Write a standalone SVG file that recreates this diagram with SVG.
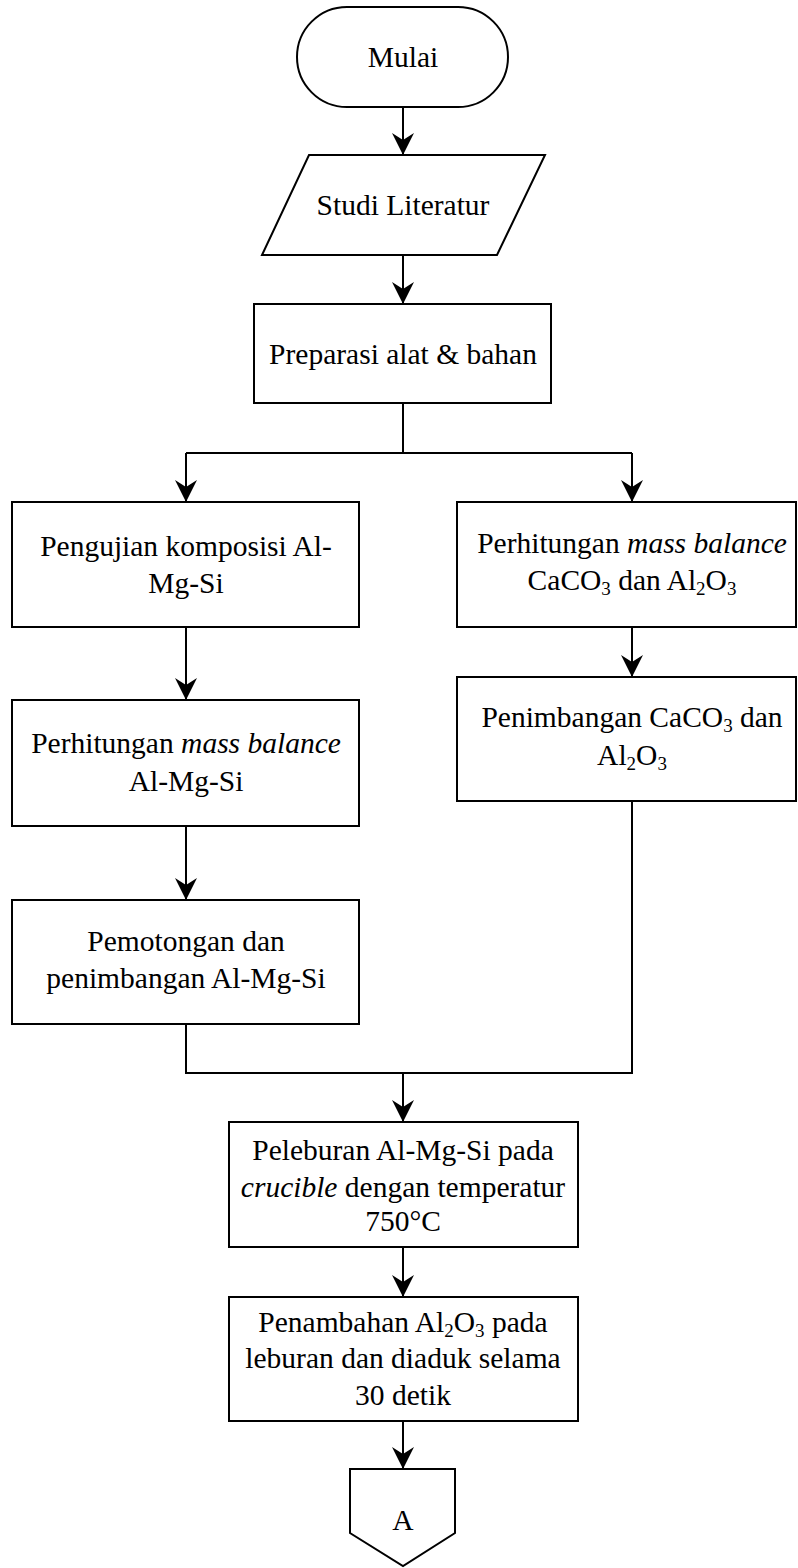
<svg xmlns="http://www.w3.org/2000/svg" width="798" height="1568" viewBox="0 0 798 1568" font-family="'Liberation Serif', 'Times New Roman', 'DejaVu Serif', serif">
<style>
.s{fill:#fff;stroke:#000;stroke-width:2}
.c{fill:none;stroke:#000;stroke-width:2}
text{font-family:'Liberation Serif','Times New Roman','DejaVu Serif',serif;font-size:29.5px;fill:#000;text-anchor:middle}
.i{font-style:italic}
.sub{font-size:19px}
</style>
<defs>
<marker id="ah" viewBox="0 0 22 22" refX="22" refY="11" markerWidth="22" markerHeight="22" markerUnits="userSpaceOnUse" orient="auto">
<path d="M0,0 L22,11 L0,22 L7,11 Z" fill="#000"/>
</marker>
</defs>
<rect width="798" height="1568" fill="#fff"/>
<g id="connectors">
<line class="c" x1="403" y1="107" x2="403" y2="155" marker-end="url(#ah)"/>
<line class="c" x1="403" y1="255" x2="403" y2="304" marker-end="url(#ah)"/>
<polyline class="c" points="403,403 403,453"/>
<polyline class="c" points="186,453 632,453"/>
<line class="c" x1="186" y1="453" x2="186" y2="502" marker-end="url(#ah)"/>
<line class="c" x1="632" y1="453" x2="632" y2="502" marker-end="url(#ah)"/>
<line class="c" x1="186" y1="627" x2="186" y2="700" marker-end="url(#ah)"/>
<line class="c" x1="186" y1="826" x2="186" y2="900" marker-end="url(#ah)"/>
<line class="c" x1="632" y1="627" x2="632" y2="677" marker-end="url(#ah)"/>
<polyline class="c" points="186,1024 186,1073 632,1073 632,801"/>
<line class="c" x1="403" y1="1073" x2="403" y2="1122" marker-end="url(#ah)"/>
<line class="c" x1="403" y1="1247" x2="403" y2="1297" marker-end="url(#ah)"/>
<line class="c" x1="403" y1="1421" x2="403" y2="1469" marker-end="url(#ah)"/>
</g>
<g id="mulai">
<rect class="s" x="297" y="7" width="211" height="100" rx="50" ry="50"/>
<text x="403" y="67">Mulai</text>
</g>
<g id="studi">
<polygon class="s" points="309,155 545,155 497,255 262,255"/>
<text x="403" y="215">Studi Literatur</text>
</g>
<g id="preparasi">
<rect class="s" x="254" y="304" width="297" height="99"/>
<text x="403" y="364">Preparasi alat &amp; bahan</text>
</g>
<g id="pengujian">
<rect class="s" x="12" y="502" width="347" height="125"/>
<text x="186" y="556">Pengujian komposisi Al-</text>
<text x="186" y="593">Mg-Si</text>
</g>
<g id="perhitungan-almgsi">
<rect class="s" x="12" y="700" width="347" height="126"/>
<text x="186" y="753">Perhitungan <tspan class="i">mass balance</tspan></text>
<text x="186" y="791">Al-Mg-Si</text>
</g>
<g id="pemotongan">
<rect class="s" x="12" y="900" width="347" height="124"/>
<text x="186" y="951">Pemotongan dan</text>
<text x="186" y="988">penimbangan Al-Mg-Si</text>
</g>
<g id="perhitungan-caco3">
<rect class="s" x="457" y="502" width="339" height="125"/>
<text x="632" y="553">Perhitungan <tspan class="i">mass balance</tspan></text>
<text x="632" y="590">CaCO<tspan class="sub" dy="5">3</tspan><tspan dy="-5"> dan Al</tspan><tspan class="sub" dy="5">2</tspan><tspan dy="-5">O</tspan><tspan class="sub" dy="5">3</tspan></text>
</g>
<g id="penimbangan-caco3">
<rect class="s" x="457" y="677" width="339" height="124"/>
<text x="632" y="727">Penimbangan CaCO<tspan class="sub" dy="5">3</tspan><tspan dy="-5"> dan</tspan></text>
<text x="632" y="765">Al<tspan class="sub" dy="5">2</tspan><tspan dy="-5">O</tspan><tspan class="sub" dy="5">3</tspan></text>
</g>
<g id="peleburan">
<rect class="s" x="229" y="1122" width="349" height="125"/>
<text x="403" y="1160">Peleburan Al-Mg-Si pada</text>
<text x="403" y="1197"><tspan class="i">crucible</tspan> dengan temperatur</text>
<text x="403" y="1231">750°C</text>
</g>
<g id="penambahan">
<rect class="s" x="229" y="1297" width="349" height="124"/>
<text x="403" y="1332">Penambahan Al<tspan class="sub" dy="5">2</tspan><tspan dy="-5">O</tspan><tspan class="sub" dy="5">3</tspan><tspan dy="-5"> pada</tspan></text>
<text x="403" y="1368">leburan dan diaduk selama</text>
<text x="403" y="1405">30 detik</text>
</g>
<g id="offpage-a">
<polygon class="s" points="350,1469 455,1469 455,1533 403,1566 350,1533"/>
<text x="403" y="1530">A</text>
</g>
</svg>
